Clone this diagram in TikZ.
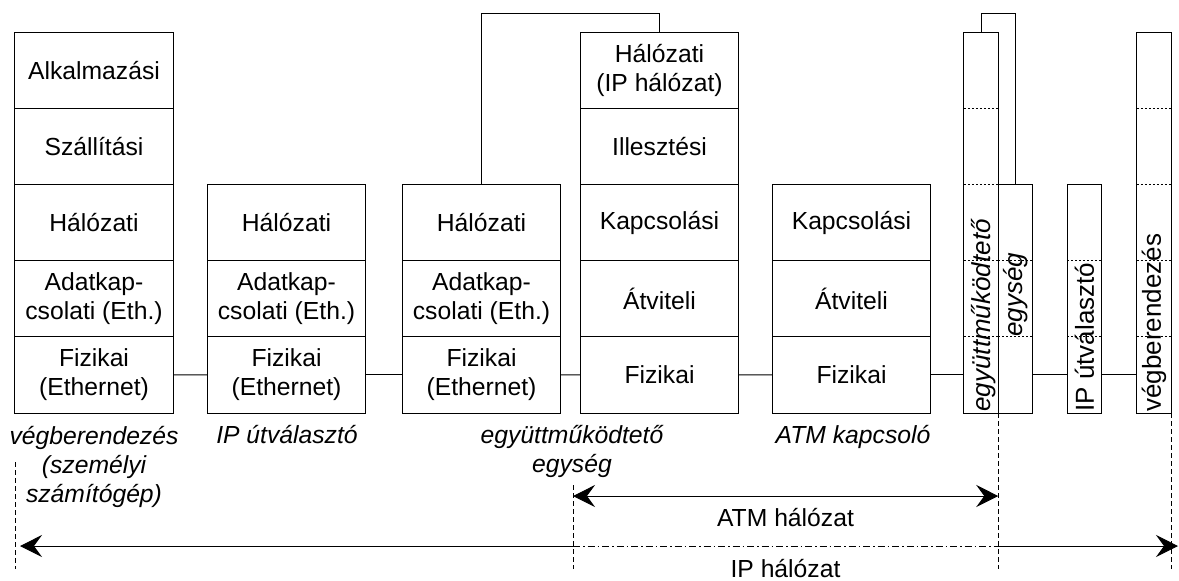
\documentclass[tikz,border=0pt]{standalone}
\usepackage{fontspec}
\setmainfont{Liberation Sans}
\usepackage{tikz}
\usetikzlibrary{positioning,calc,arrows.meta}
\newcommand{\lfont}{\fontsize{12.35}{14.5}\selectfont}
\newcommand{\vfont}{\fontsize{13}{15}\selectfont}
\tikzset{
	layer/.style={draw, outer sep=0pt, inner sep=0pt, minimum width=79.25pt, minimum height=38.1pt, align=center, font=\lfont},
	slim/.style={draw, outer sep=0pt, inner sep=0pt, minimum width=17.25pt, minimum height=#1},
	dotsep/.style={dash pattern=on 1pt off 1pt},
	bound/.style={dash pattern=on 2.5pt off 1.5pt},
	dashdot/.style={dash pattern=on 3.5pt off 1.5pt on 0.75pt off 1.5pt},
	nettip/.tip={Stealth[length=11pt,width=11pt,inset=4pt]},
	devname/.style={font=\lfont\itshape, align=center, inner sep=0pt, anchor=base},
	netname/.style={font=\lfont, inner sep=0pt, anchor=base},
	vname/.style={font=\vfont, rotate=90, anchor=west, inner sep=0pt}
}

\begin{document}
\begin{tikzpicture}[x=0.5pt,y=-0.5pt,line width=0.5pt]
				\useasboundingbox (0,0) rectangle (1179,580);
				\coordinate (lid) at (0,13);
				\coordinate (floor) at (0,569);
				\node[layer] (a1) at (94,70.1) {Alkalmazási};
				\node[layer,below=0pt of a1] (a2) {Szállítási};
				\node[layer,below=0pt of a2] (a3) {Hálózati};
				\node[layer,below=0pt of a3] (a4) {Adatkap-\\csolati (Eth.)};
				\node[layer,below=0pt of a4] (a5) {Fizikai\\(Ethernet)};
				\node[layer] (b1) at (286.5,222.5) {Hálózati};
				\node[layer,below=0pt of b1] (b2) {Adatkap-\\csolati (Eth.)};
				\node[layer,below=0pt of b2] (b3) {Fizikai\\(Ethernet)};
				\node[layer] (c1) at (481.5,222.5) {Hálózati};
				\node[layer,below=0pt of c1] (c2) {Adatkap-\\csolati (Eth.)};
				\node[layer,below=0pt of c2] (c3) {Fizikai\\(Ethernet)};
				\node[layer] (d1) at (659.5,70.1) {Hálózati\\(IP hálózat)};
				\node[layer,below=0pt of d1] (d2) {Illesztési};
				\node[layer,below=0pt of d2] (d3) {Kapcsolási};
				\node[layer,below=0pt of d3] (d4) {Átviteli};
				\node[layer,below=0pt of d4] (d5) {Fizikai};
				\node[layer] (e1) at (851.5,222.5) {Kapcsolási};
				\node[layer,below=0pt of e1] (e2) {Átviteli};
				\node[layer,below=0pt of e2] (e3) {Fizikai};
				\node[slim=190.5pt] (iw) at (981,222.5) {};
				\node[slim=114.3pt] (iwb) at (1015.5,298.7) {};
				\node[slim=114.3pt] (rt) at (1084.5,298.7) {};
				\node[slim=190.5pt] (host) at (1154,222.5) {};
				\foreach \f in {0.2,0.4,0.6,0.8} {
					\draw[dotsep] ($(iw.north west)!\f!(iw.south west)$) -- ($(iw.north east)!\f!(iw.south east)$);
					\draw[dotsep] ($(host.north west)!\f!(host.south west)$) -- ($(host.north east)!\f!(host.south east)$);
				}
				\foreach \f in {0.3333,0.6667} {
					\draw[dotsep] ($(iwb.north west)!\f!(iwb.south west)$) -- ($(iwb.north east)!\f!(iwb.south east)$);
					\draw[dotsep] ($(rt.north west)!\f!(rt.south west)$) -- ($(rt.north east)!\f!(rt.south east)$);
				}
				\node[vname,font=\vfont\itshape] (iwt) at (984,412) {együttműködtető};
				\node[vname,font=\vfont\itshape] (iwbt) at (1015.5,337) {egység};
				\node[vname] (rtt) at (1084.5,412) {IP útválasztó};
				\node[vname] (hostt) at (1154,412) {végberendezés};
				\draw (a5.east) -- (b3.west);
				\draw (b3.east) -- (c3.west);
				\draw (c3.east) -- (d5.west);
				\draw (d5.east) -- (e3.west);
				\draw (e3.east) -- (e3.east -| iw.west);
				\draw (iwb.east |- e3.east) -- (rt.west |- e3.east);
				\draw (rt.east |- e3.east) -- (host.west |- e3.east);
				\draw (c1.north) -- (c1.north |- lid) -| (d1.north);
				\draw (iw.north) -- (iw.north |- lid) -| (iwb.north);
				\node[devname] (pc) at (94,502) {végberendezés\\(személyi\\számítógép)};
				\node[devname] (router) at (287,443) {IP útválasztó};
				\node[devname] (iwu) at (572,472) {együttműködtető\\egység};
				\node[devname] (sw) at (853,443) {ATM kapcsoló};
				\coordinate (pcL) at (15,462);
				\coordinate (atmL) at (573,485);
				\coordinate (atmA) at (573,496);
				\coordinate (ipL) at (20,546);
				\coordinate (ipR) at (1178,546);
				\draw[bound] (pcL) -- (pcL |- floor);
				\draw[bound] (atmL) -- (atmL |- floor);
				\draw[bound] (iw.south east) -- (iw.south east |- floor);
				\draw[bound] (host.south east) -- (host.south east |- floor);
				\draw[nettip-nettip] (atmA) -- (atmA -| iw.south east);
				\draw[-nettip] (atmL |- ipL) -- (ipL);
				\draw[dashdot] (atmL |- ipL) -- (iw.south east |- ipL);
				\draw[-nettip] (iw.south east |- ipL) -- (ipR);
				\node[netname] (atmnet) at (785.5,526) {ATM hálózat};
				\node[netname] (ipnet) at (785.5,577) {IP hálózat};
			\end{tikzpicture}
\end{document}
